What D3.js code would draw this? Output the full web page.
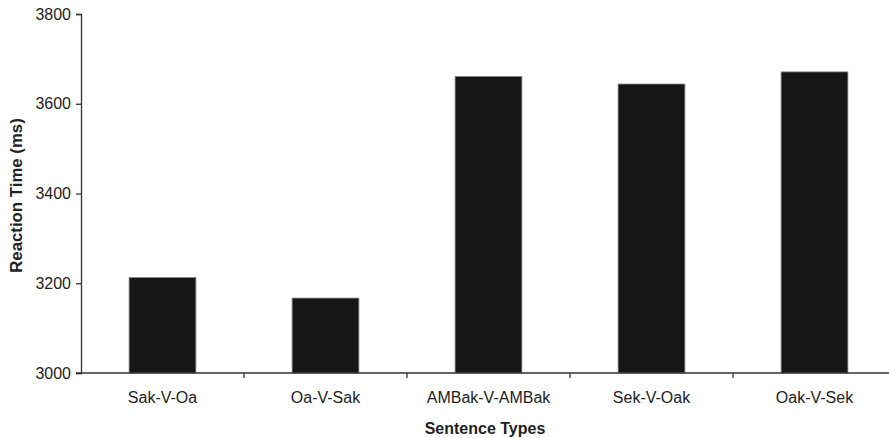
<!DOCTYPE html>
<html>
<head>
<meta charset="utf-8">
<script src="https://cdn.jsdelivr.net/npm/d3@7"></script>
<style>
  html, body { margin: 0; padding: 0; background: #fff; }
  svg { display: block; }
  text { font-family: "Liberation Sans", Arial, sans-serif; fill: #222; }
</style>
</head>
<body>
<svg id="chart" width="889" height="438"></svg>
<script>
const categories = ["Sak-V-Oa", "Oa-V-Sak", "AMBak-V-AMBak", "Sek-V-Oak", "Oak-V-Sek"];
const reactionTimes = [3213, 3167, 3661, 3644, 3671];
const yTicks = [3000, 3200, 3400, 3600, 3800];
const xTitle = "Sentence Types";
const yTitle = "Reaction Time (ms)";

const W = 889, H = 438;
const mLeft = 81, mRight = 896, mTop = 14, mBottom = 373;

const svg = d3.select("#chart");

const y = d3.scaleLinear().domain([3000, 3800]).range([mBottom, mTop]);
const xBand = d3.scaleBand().domain(categories).range([mLeft, mRight]).padding(0);
const xBar = d3.scaleBand().domain(categories).range([mLeft, mRight])
  .paddingInner(0.59).paddingOuter(0.295);

// bars
svg.append("g").selectAll("rect").data(categories).join("rect")
  .attr("x", d => xBar(d))
  .attr("y", (d, i) => y(reactionTimes[i]))
  .attr("width", xBar.bandwidth())
  .attr("height", (d, i) => mBottom - y(reactionTimes[i]))
  .attr("fill", "#161616")
  .attr("stroke", "#8a8a8a")
  .attr("stroke-width", 0.8);

// y axis
const yAxis = d3.axisLeft(y).tickValues(yTicks).tickSize(5).tickPadding(5).tickFormat(d3.format("d"));
const gy = svg.append("g").attr("transform", `translate(${mLeft},0)`).call(yAxis);
gy.select(".domain").attr("stroke", "#333").attr("stroke-width", 1.3);
gy.selectAll(".tick line").attr("stroke", "#333").attr("stroke-width", 1.3);
gy.selectAll(".tick text").attr("font-size", 16).attr("fill", "#222")
  .attr("font-family", "Liberation Sans, Arial, sans-serif");

// x axis line
svg.append("line")
  .attr("x1", mLeft - 5).attr("x2", W)
  .attr("y1", mBottom).attr("y2", mBottom)
  .attr("stroke", "#333").attr("stroke-width", 1.3);

// x ticks at band boundaries
svg.append("g").selectAll("line").data(categories.slice(1)).join("line")
  .attr("x1", d => xBand(d)).attr("x2", d => xBand(d))
  .attr("y1", mBottom).attr("y2", mBottom + 5)
  .attr("stroke", "#333").attr("stroke-width", 1.3);

// x labels
svg.append("g").selectAll("text").data(categories).join("text")
  .attr("x", d => xBand(d) + xBand.bandwidth() / 2)
  .attr("y", 403)
  .attr("text-anchor", "middle")
  .attr("font-size", 16)
  .text(d => d);

// x title
svg.append("text")
  .attr("x", (mLeft + W) / 2)
  .attr("y", 434)
  .attr("text-anchor", "middle")
  .attr("font-size", 16)
  .attr("font-weight", "bold")
  .text(xTitle);

// y title
svg.append("text")
  .attr("transform", `translate(22, ${(mTop + mBottom) / 2 + 2}) rotate(-90)`)
  .attr("text-anchor", "middle")
  .attr("font-size", 16.8)
  .attr("font-weight", "bold")
  .text(yTitle);
</script>
</body>
</html>
